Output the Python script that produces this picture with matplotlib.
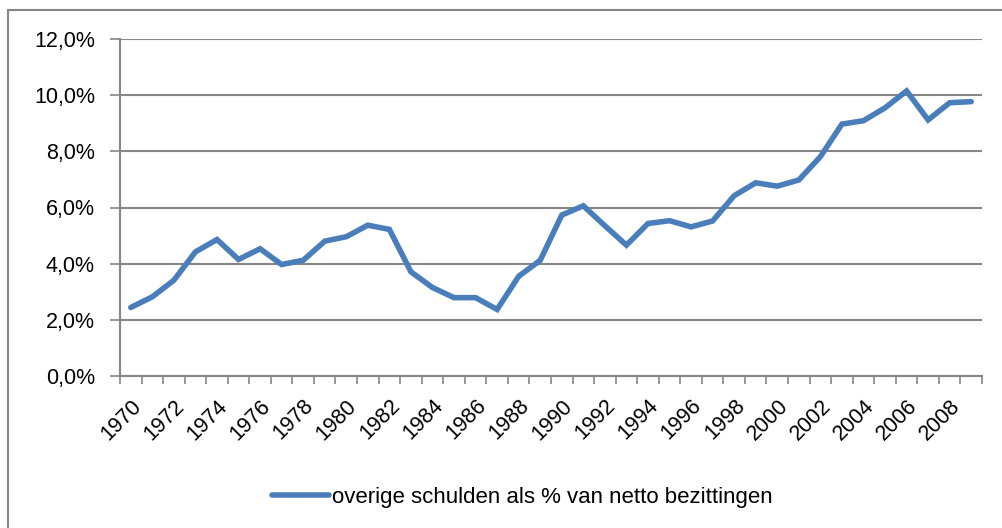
import matplotlib.pyplot as plt
import matplotlib.ticker as mticker
from matplotlib.patches import Rectangle
import numpy as np

plt.rcParams['font.family'] = ['Liberation Sans', 'DejaVu Sans']

# Data
years = list(range(1970, 2010))
values = [2.44, 2.82, 3.41, 4.42, 4.86, 4.15, 4.53, 3.97, 4.12, 4.80,
          4.96, 5.37, 5.22, 3.71, 3.15, 2.79, 2.79, 2.37, 3.55, 4.12,
          5.73, 6.06, 5.35, 4.66, 5.43, 5.53, 5.31, 5.52, 6.42, 6.88,
          6.76, 6.98, 7.81, 8.97, 9.09, 9.55, 10.15, 9.12, 9.73, 9.77]
series_label = 'overige schulden als % van netto bezittingen'
y_ticks = [0, 2, 4, 6, 8, 10, 12]

grey = '#868686'
blue = '#4A7EBB'

fig = plt.figure(figsize=(10.03, 5.28), dpi=100)
ax = fig.add_axes([120 / 1003, 1 - 376 / 528, 862 / 1003, 337 / 528])

# outer chart border (runs off the right and bottom edges)
fig.patches.append(Rectangle((8 / 1003, -0.1), 1.1, 1 - 10 / 528 + 0.1,
                             transform=fig.transFigure, fill=False,
                             edgecolor=grey, linewidth=1.5))

x = np.arange(len(years))
line, = ax.plot(x, values, color=blue, linewidth=4.0, solid_capstyle='round',
                solid_joinstyle='miter', label=series_label, zorder=3)

ax.set_xlim(-0.5, len(years) - 0.5)
ax.set_ylim(0, 12)
ax.set_yticks(y_ticks)
ax.yaxis.set_major_formatter(mticker.FuncFormatter(
    lambda v, p: f'{v:.1f}'.replace('.', ',') + '%'))
ax.grid(axis='y', color=grey, linewidth=1.5)
ax.set_axisbelow(True)

ax.set_xticks(x[::2])
ax.set_xticklabels([str(y) for y in years[::2]], rotation=45, ha='right',
                   va='top', rotation_mode='anchor')
ax.set_xticks(np.arange(-0.5, len(years)), minor=True)
ax.tick_params(axis='x', which='major', length=0, pad=14, labelsize=15.5)
ax.tick_params(axis='x', which='minor', length=6, width=1.2, color=grey)
ax.tick_params(axis='y', length=7, width=1.2, color=grey, pad=11, labelsize=15.5)

for s in ['top', 'right']:
    ax.spines[s].set_visible(False)
for s in ['left', 'bottom']:
    ax.spines[s].set_color(grey)
    ax.spines[s].set_linewidth(1.5)

fig.legend(handles=[line], loc='center', bbox_to_anchor=(522 / 1003, 1 - 497 / 528),
           frameon=False, fontsize=16, handlelength=2.6, handletextpad=0.1)

fig.savefig('out.png', dpi=100)
